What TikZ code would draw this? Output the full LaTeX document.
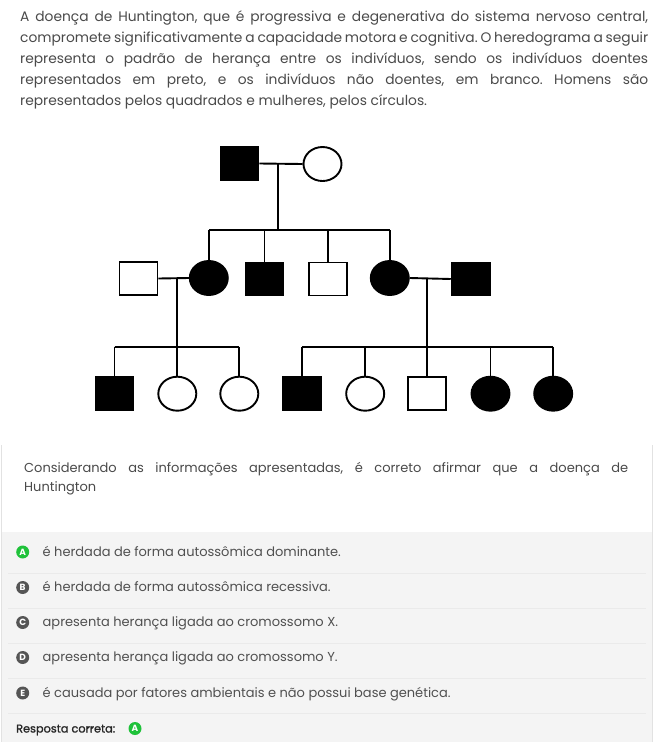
\documentclass[tikz,border=0pt]{standalone}
\usepackage{fontspec}
\setmainfont{Poppins}
\newfontfamily\semib[FakeBold=1.3]{Poppins}
\usetikzlibrary{shapes.geometric}
\definecolor{txt}{HTML}{4A4A4A}
\definecolor{opt}{HTML}{505050}
\definecolor{panel}{HTML}{F4F4F4}
\definecolor{border}{HTML}{E2E2E2}
\definecolor{sepc}{HTML}{EAEAEA}
\definecolor{okgreen}{HTML}{1FC23A}
\definecolor{icongray}{HTML}{555555}
\tikzset{
  line/.style={line width=1.9pt, black},
  male/.style={rectangle, draw=black, line width=1.9pt, minimum width=38pt, minimum height=33pt, inner sep=0pt},
  female/.style={ellipse, draw=black, line width=1.9pt, minimum width=38pt, minimum height=34pt, inner sep=0pt},
  aff/.style={fill=black},
  una/.style={fill=white},
  para/.style={anchor=base west, inner sep=0pt, text=txt, font=\fontsize{13.8}{15}\selectfont},
  opttext/.style={anchor=base west, inner sep=0pt, text=opt, font=\fontsize{13}{15}\selectfont},
  icon/.style={circle, inner sep=0pt, minimum size=13pt, text=white, font=\fontsize{9}{9}\selectfont\bfseries},
  sep/.style={sepc, line width=0.8pt}
}
\begin{document}
\frenchspacing
\begin{tikzpicture}[x=1pt,y=-1pt]
\useasboundingbox (0,0) rectangle (655,742);
\fill[white] (0,0) rectangle (655,742);
% answer panel
\fill[panel] (1,532) rectangle (652,742);
\draw[border, line width=1pt] (1,445) -- (1,742);
\draw[border, line width=1pt] (652,445) -- (652,742);
\foreach \yy in {573,608,643,678,713} \draw[sep] (8,\yy) -- (646,\yy);

% paragraph
\node[para] (p1) at (20,21.5) {\makebox[628pt][s]{A doença de Huntington, que é progressiva e degenerativa do sistema nervoso central,}};
\node[para] (p2) at (20,42.5) {\makebox[628pt][s]{compromete significativamente a capacidade motora e cognitiva. O heredograma a seguir}};
\node[para] (p3) at (20,63.5) {\makebox[628pt][s]{representa o padrão de herança entre os indivíduos, sendo os indivíduos doentes}};
\node[para] (p4) at (20,84.5) {\makebox[628pt][s]{representados em preto, e os indivíduos não doentes, em branco. Homens são}};
\node[para] (p5) at (20,105.5) {representados pelos quadrados e mulheres, pelos círculos.};

% pedigree generation I
\node[male,aff] (I1) at (239.5,163.5) {};
\node[female,una] (I2) at (322.5,164) {};
% generation II
\node[male,una] (II1) at (138.5,278.5) {};
\node[female,aff] (II2) at (208.8,278) {};
\node[male,aff] (II3) at (264.5,279) {};
\node[male,una] (II4) at (328.3,279) {};
\node[female,aff] (II5) at (389.8,278) {};
\node[male,aff] (II6) at (470.7,279) {};
% generation III
\node[male,aff] (III1) at (114.5,393.5) {};
\node[female,una] (III2) at (177.3,393.7) {};
\node[female,una] (III3) at (239.3,393.7) {};
\node[male,aff] (III4) at (301.8,393.5) {};
\node[female,una] (III5) at (365.2,393.7) {};
\node[male,una] (III6) at (427.3,393.5) {};
\node[female,aff] (III7) at (490.5,393.7) {};
\node[female,aff] (III8) at (553.2,393.7) {};

% junction coordinates
\coordinate (m1) at (277.7,163.5);
\coordinate (s1) at (277.7,230);
\coordinate (m2) at (177.3,278.8);
\coordinate (s2) at (177.3,346.7);
\coordinate (m3) at (427.3,278);
\coordinate (s3) at (427.3,346.7);

% connectors
\draw[line] (I1.east) -- (I2.west);
\draw[line] (m1) -- (s1);
\draw[line] (II2 |- s1) -- (II5 |- s1);
\foreach \n in {II2,II3,II4,II5} \draw[line] (\n |- s1) -- (\n.north);

\draw[line] (II1.east) -- (II2.west);
\draw[line] (m2) -- (s2);
\draw[line] (III1 |- s2) -- (III3 |- s2);
\foreach \n in {III1,III2,III3} \draw[line] (\n |- s2) -- (\n.north);

\draw[line] (II5.east) -- (II6.west);
\draw[line] (m3) -- (s3);
\draw[line] (III4 |- s3) -- (III8 |- s3);
\foreach \n in {III4,III5,III6,III7,III8} \draw[line] (\n |- s3) -- (\n.north);

% question
\node[para, font=\fontsize{13}{15}\selectfont] (q1) at (24,472.5) {\makebox[604pt][s]{Considerando as informações apresentadas, é correto afirmar que a doença de}};
\node[para, font=\fontsize{13}{15}\selectfont] (q2) at (24,491) {Huntington};

% options
\node[icon, fill=okgreen] (iA) at (22.7,552) {A};
\node[opttext] (tA) at (42.5,556.3) {é herdada de forma autossômica dominante.};
\node[icon, fill=icongray] (iB) at (22.7,587.5) {B};
\node[opttext] (tB) at (42.5,591.8) {é herdada de forma autossômica recessiva.};
\node[icon, fill=icongray] (iC) at (22.7,622.5) {C};
\node[opttext] (tC) at (42.5,626.8) {apresenta herança ligada ao cromossomo X.};
\node[icon, fill=icongray] (iD) at (22.7,657.5) {D};
\node[opttext] (tD) at (42.5,661.8) {apresenta herança ligada ao cromossomo Y.};
\node[icon, fill=icongray] (iE) at (22.7,693) {E};
\node[opttext] (tE) at (42.5,697.3) {é causada por fatores ambientais e não possui base genética.};

\node[anchor=base west, inner sep=0pt, text=black!85, font=\fontsize{11.3}{12}\semib] (resp) at (16,732.5) {Resposta correta:};
\node[icon, fill=okgreen] (iR) at (135,728.5) {A};
\end{tikzpicture}
\end{document}
